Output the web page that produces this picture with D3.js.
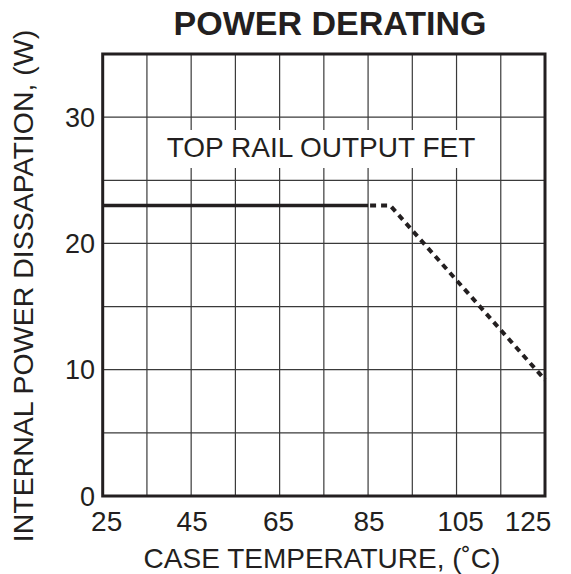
<!DOCTYPE html>
<html>
<head>
<meta charset="utf-8">
<script src="https://cdn.jsdelivr.net/npm/d3@7"></script>
<style>
    body { margin: 0; background: #fff; }
    text { font-family: Arial, "Liberation Sans", Helvetica, sans-serif; fill: #231f20; }
</style>
</head>
<body>
<div id="chart"></div>
<script>

// data
var tempTicks = [25, 45, 65, 85, 105, 125];
var powerTicks = [0, 10, 20, 30];
var tempGrid = [25, 35, 45, 55, 65, 75, 85, 95, 105, 115, 125];
var powerGrid = [0, 5, 10, 15, 20, 25, 30, 35];

// solid part (rated) and dashed part (derated)
var ratedTemp = [25, 85];
var ratedPower = [23, 23];
var deratedTemp = [85, 90, 125];
var deratedPower = [23, 23, 9.2];

// small nudges for the end tick labels (as in the original)
var tempLabelShift = [4, 1, -1, 1, 4, -17];

var width = 571, height = 574;

var svg = d3.select("#chart").append("svg")
    .attr("width", width)
    .attr("height", height);

var x = d3.scaleLinear()
    .domain([25, 125])
    .range([102.7, 545]);

var y = d3.scaleLinear()
    .domain([0, 35])
    .range([496, 54]);

// grid
svg.append("g").selectAll("line.v")
    .data(tempGrid)
    .enter().append("line")
    .attr("class", "v")
    .attr("x1", function(d) { return x(d); })
    .attr("x2", function(d) { return x(d); })
    .attr("y1", y(0))
    .attr("y2", y(35))
    .attr("stroke", "#3a3a3a")
    .attr("stroke-width", 1.2);

svg.append("g").selectAll("line.h")
    .data(powerGrid)
    .enter().append("line")
    .attr("class", "h")
    .attr("x1", x(25))
    .attr("x2", x(125))
    .attr("y1", function(d) { return y(d); })
    .attr("y2", function(d) { return y(d); })
    .attr("stroke", "#3a3a3a")
    .attr("stroke-width", 1.2);

// label inside the plot sits on a white patch
var label = svg.append("text")
    .attr("x", 321)
    .attr("y", 157)
    .attr("text-anchor", "middle")
    .attr("font-size", 28)
    .text("TOP RAIL OUTPUT FET");

var bb = label.node().getBBox();
svg.insert("rect", "text")
    .attr("x", bb.x - 3)
    .attr("y", 130)
    .attr("width", bb.width + 6)
    .attr("height", 38)
    .attr("fill", "#fff");

// frame
svg.append("rect")
    .attr("x", x(25))
    .attr("y", y(35))
    .attr("width", x(125) - x(25))
    .attr("height", y(0) - y(35))
    .attr("fill", "none")
    .attr("stroke", "#231f20")
    .attr("stroke-width", 3);

// curve
var line = d3.line()
    .x(function(d) { return x(d[0]); })
    .y(function(d) { return y(d[1]); });

svg.append("path")
    .datum(d3.zip(ratedTemp, ratedPower))
    .attr("d", line)
    .attr("fill", "none")
    .attr("stroke", "#231f20")
    .attr("stroke-width", 3.5);

svg.append("path")
    .datum(d3.zip(deratedTemp, deratedPower))
    .attr("d", line)
    .attr("fill", "none")
    .attr("stroke", "#231f20")
    .attr("stroke-width", 4)
    .attr("stroke-dasharray", "6,5")
    .attr("stroke-dashoffset", -2);

// tick labels
svg.append("g").selectAll("text")
    .data(tempTicks)
    .enter().append("text")
    .attr("x", function(d, i) { return x(d) + tempLabelShift[i]; })
    .attr("y", 531)
    .attr("text-anchor", "middle")
    .attr("font-size", 28)
    .text(function(d) { return d; });

svg.append("g").selectAll("text")
    .data(powerTicks)
    .enter().append("text")
    .attr("x", 95)
    .attr("y", function(d) { return y(d); })
    .attr("dy", "0.36em")
    .attr("text-anchor", "end")
    .attr("font-size", 27)
    .text(function(d) { return d; });

// titles
svg.append("text")
    .attr("x", 330)
    .attr("y", 35)
    .attr("text-anchor", "middle")
    .attr("font-size", 34)
    .attr("font-weight", "bold")
    .text("POWER DERATING");

svg.append("text")
    .attr("x", 322)
    .attr("y", 568)
    .attr("text-anchor", "middle")
    .attr("font-size", 28)
    .text("CASE TEMPERATURE, (˚C)");

svg.append("text")
    .attr("transform", "translate(33,286) rotate(-90)")
    .attr("text-anchor", "middle")
    .attr("font-size", 28.5)
    .text("INTERNAL POWER DISSAPATION, (W)");

</script>
</body>
</html>
